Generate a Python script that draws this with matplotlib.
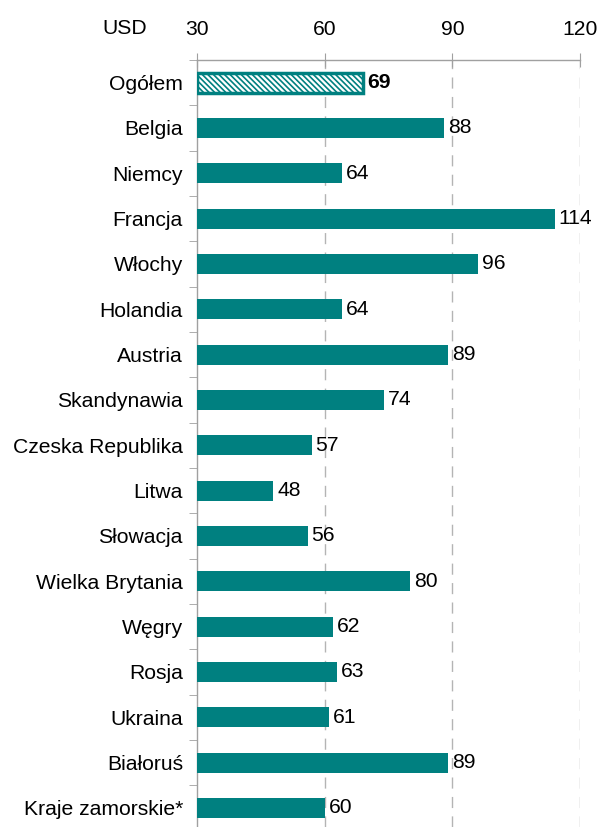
import numpy as np
import matplotlib.pyplot as plt

plt.rcParams['font.family'] = ['Liberation Sans', 'DejaVu Sans']

countries = ["Ogółem", "Belgia", "Niemcy", "Francja", "Włochy", "Holandia",
             "Austria", "Skandynawia", "Czeska Republika", "Litwa", "Słowacja",
             "Wielka Brytania", "Węgry", "Rosja", "Ukraina", "Białoruś",
             "Kraje zamorskie*"]
values = [69, 88, 64, 114, 96, 64, 89, 74, 57, 48, 56, 80, 62, 63, 61, 89, 60]
xticks = [30, 60, 90, 120]

teal = '#008080'
grey = '#a0a0a0'
fs = 15.2

plt.rcParams['hatch.color'] = teal
plt.rcParams['hatch.linewidth'] = 1.2

fig = plt.figure(figsize=(6, 8.27), dpi=100)
ax = fig.add_axes([0.328, 0.0, 0.639, 0.9275])

y = np.arange(len(countries))
base = 30
bars = ax.barh(y, [v - base for v in values], left=base, height=0.44,
               color=teal, edgecolor='none', zorder=3)
# first bar: hatched
bars[0].set_facecolor('white')
bars[0].set_edgecolor(teal)
bars[0].set_hatch('\\\\\\\\\\\\')
bars[0].set_linewidth(2.5)

for i, v in enumerate(values):
    ax.text(v + 0.9, i, str(v), va='center', ha='left', fontsize=fs,
            fontweight='bold' if i == 0 else 'normal', zorder=4)

ax.set_xlim(30, 120)
ax.set_ylim(16.42, -0.47)
ax.set_yticks(y)
ax.set_yticklabels(countries, fontsize=fs)
ax.set_yticks(np.arange(-0.5, 16.5, 1), minor=True)
ax.tick_params(axis='y', which='major', length=0, pad=10)
ax.tick_params(axis='y', which='minor', length=6, color=grey, direction='out')

ax.xaxis.tick_top()
ax.set_xticks(xticks)
ax.set_xticklabels([str(t) for t in xticks], fontsize=fs)
ax.tick_params(axis='x', direction='inout', length=10, color=grey, pad=10)

for t in xticks[1:]:
    ax.axvline(t, color='#b4b4b4', linestyle=(0, (8, 6)), linewidth=1, zorder=1)

for s in ['right', 'bottom']:
    ax.spines[s].set_visible(False)
for s in ['top', 'left']:
    ax.spines[s].set_color(grey)
    ax.spines[s].set_linewidth(1)

fig.text(125 / 600, 1 - 28 / 827, 'USD', fontsize=fs, ha='center', va='center')

fig.savefig('out.png', dpi=100)
